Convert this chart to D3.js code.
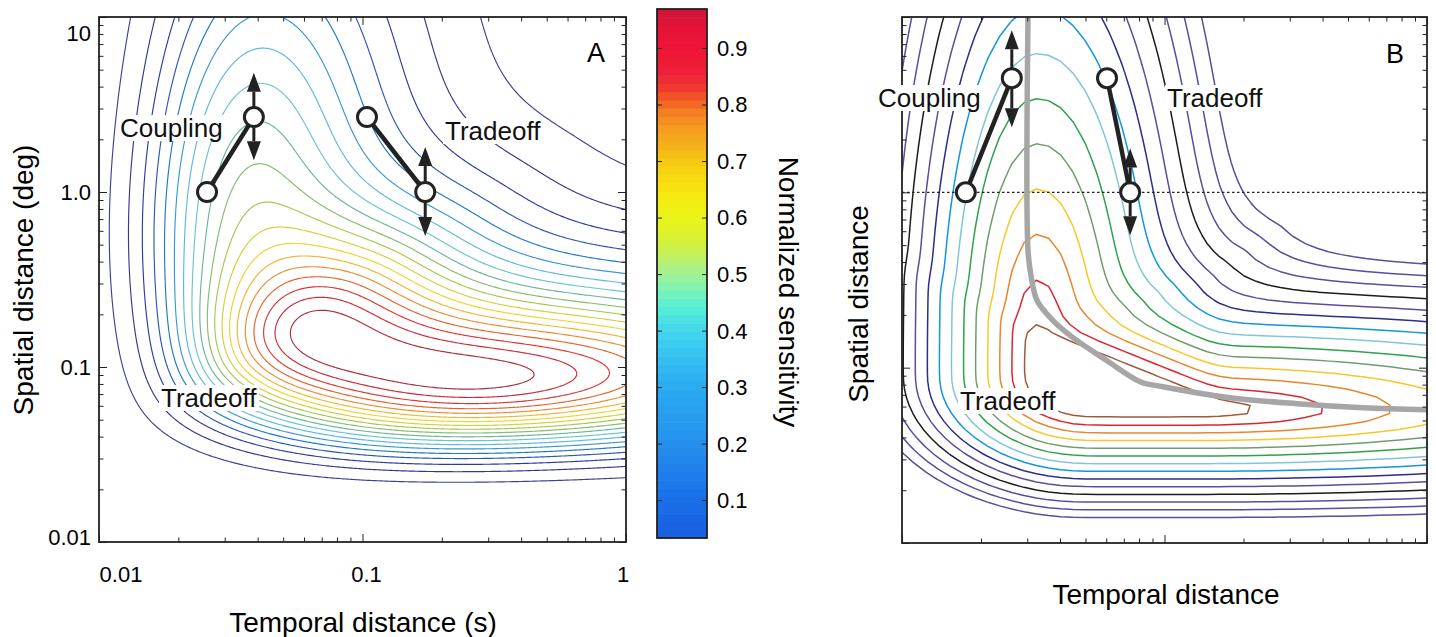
<!DOCTYPE html>
<html>
<head>
<meta charset="utf-8">
<script src="https://cdn.jsdelivr.net/npm/d3@7"></script>
<style>
  body { margin: 0; background: #fff; }
  svg { font-family: "Liberation Sans", Arial, Helvetica, sans-serif; }
</style>
</head>
<body>
<svg id="chart" width="1436" height="637"></svg>
<script>
// ---------- values ----------
var tDomain = [0.01, 1];          // temporal distance (s)
var sDomain = [0.01, 10];         // spatial distance (deg)
var tTickValues = [0.01, 0.1, 1];
var tTickLabels = ["0.01", "0.1", "1"];
var sTickValues = [0.01, 0.1, 1, 10];
var sTickLabels = ["0.01", "0.1", "1.0", "10"];

// panel A: Kelly (1979) spatiotemporal sensitivity, contour levels of normalized sensitivity
var levelsA = [0.05, 0.10, 0.15, 0.20, 0.25, 0.30, 0.35, 0.40, 0.45, 0.50,
               0.55, 0.60, 0.65, 0.70, 0.75, 0.80, 0.85, 0.90, 0.95];
var colorsA = ["#40409c", "#36378f", "#2e3c9c", "#2a58b4", "#2178c8", "#3a98d6", "#5cb8e0",
               "#6cc3c8", "#6bb59c", "#84bd6d", "#a8c84d", "#d0d23b", "#eed52e", "#f2b52f",
               "#ec8c33", "#e5622f", "#df3532", "#cf2a3a", "#a6313f"];
var kellyCoef = [6.1, 7.3, 3, 2, 45.9];
var distToFreq = [1.6, 1.8];      // temporal, spatial conversion of distances to frequencies

// colour bar
var colorbarDomain = [0.033, 0.969];
var colorbarTicks = [0.1, 0.2, 0.3, 0.4, 0.5, 0.6, 0.7, 0.8, 0.9];
var colorbarStops = [0.03, 0.10, 0.20, 0.30, 0.36, 0.40, 0.44, 0.47, 0.50, 0.53, 0.56, 0.60,
                     0.64, 0.67, 0.70, 0.73, 0.76, 0.79, 0.81, 0.83, 0.86, 0.90, 0.94, 0.97];
var colorbarColors = ["#1a5fe0", "#1a6ee8", "#2490ec", "#2aaaf0", "#38c4f0", "#42d6ee", "#55eed6",
                      "#78f4b8", "#a0f296", "#c0f066", "#d6f236", "#eaf418", "#f6ea10", "#f8da10",
                      "#f6c812", "#f5b018", "#f59a20", "#f47a22", "#f25a24", "#f03a30", "#ee1e36",
                      "#ee1438", "#e41438", "#c8163a"];

// panel B: model sensitivity with a vertical (coupling) and a horizontal (tradeoff) arm
var levelsB = [1, 2, 3, 4, 5, 6, 7, 8, 9, 10, 11, 12, 13, 14].map(function (n) { return n / 15; });
var colorsB = ["#5d4b9b", "#5d4b9b", "#5d4b9b", "#1c1c1c", "#5d4b9b", "#2c2e87", "#1495dc",
               "#80c6d8", "#2ea24d", "#6f9d6f", "#f7c82b", "#e8862c", "#dd2532", "#9b5b3f"];
var vArmB = [-1.48, -1.0, 0.26];              // crest log T, plateau top log S, fall upward
var vFlankB = [1.45, 1.25, 0.2];              // left slope, right slope, inner corner radius
var hArmB = [-0.875, 0.267];                  // plateau end log T, fall rightward
var hCrestB = [-1.245, -1.24, 0.6, -0.8];     // lower edge, upper edge, upper-edge tilt, tilt start
var hFlankB = [1.52, 1.1];                    // lower and upper slopes
var blendB = [0.28, 0.01];
var ridgeB = [[0.0302, 10], [0.0302, 0.467], [0.031, 0.336], [0.0327, 0.2415], [0.0376, 0.1856],
              [0.0448, 0.1484], [0.0604, 0.1096], [0.0807, 0.0832], [0.0987, 0.0779],
              [0.1776, 0.0674], [0.3198, 0.0623], [0.5706, 0.0591], [1, 0.0575]];
var spatialReferenceB = 1.0;

// markers: [T, S]
var couplingA = [[0.0257, 1.0], [0.0387, 2.68]];
var tradeoffA = [[0.104, 2.68], [0.173, 1.0]];
var arrowTipsA = [[0.0387, 4.8], [0.0387, 1.52], [0.173, 1.81], [0.173, 0.56]];
var couplingB = [[0.0175, 1.0], [0.0262, 4.48]];
var tradeoffB = [[0.0604, 4.48], [0.074, 1.0]];
var arrowTipsB = [[0.0262, 8.4], [0.0262, 2.35], [0.074, 1.78], [0.074, 0.57]];

// ---------- drawing ----------
var svg = d3.select("#chart");
var ink = "#222";

var xA = d3.scaleLog().domain(tDomain).range([99, 626]);
var yA = d3.scaleLog().domain(sDomain).range([542, 17]);
var xB = d3.scaleLog().domain(tDomain).range([902, 1427]);
var yB = d3.scaleLog().domain(sDomain).range([543, 17]);

var uMin = Math.log10(tDomain[0]), uMax = Math.log10(tDomain[1]);
var wMin = Math.log10(sDomain[0]), wMax = Math.log10(sDomain[1]);

function kelly(u, w) {
    var om = distToFreq[0] / Math.pow(10, u);
    var al = distToFreq[1] / Math.pow(10, w);
    var v = om / al;
    var k = kellyCoef[0] + kellyCoef[1] * Math.pow(Math.abs(Math.log10(v / kellyCoef[2])), 3);
    return k * v * al * al * Math.exp(-2 * al * (v + kellyCoef[3]) / kellyCoef[4]);
}

// smooth version of max(0, x)
function sp(x) {
    var s = 0.03;
    return x > 10 * s ? x : s * Math.log(1 + Math.exp(x / s));
}
function sig(x) { return 1 / (1 + Math.exp(-x)); }

function modelB(u, w) {
    var du = u - vArmB[0];
    var wu = hCrestB[1] + hCrestB[2] * sp(hCrestB[3] - u);
    // shared inner (lower-left) fall-off with a rounded corner
    var r = vFlankB[2];
    var a = vFlankB[0] * sp(-du + r), b = hFlankB[0] * sp(hCrestB[0] - w + r);
    var inner = sp(Math.sqrt(a * a + b * b) - r * (vFlankB[0] + hFlankB[0]) / 2);
    // vertical (coupling) arm
    var cR = vFlankB[1] * sp(du), cT = vArmB[2] * sp(w - vArmB[1]);
    var cV = Math.sqrt(inner * inner + cR * cR + cT * cT);
    // horizontal (tradeoff) arm
    var hR = hArmB[1] * sp(u - hArmB[0]), hU = hFlankB[1] * sp(w - wu);
    var cH = Math.sqrt(inner * inner + hR * hR + hU * hU);
    // soft minimum, rounded only in the outer (upper-right) quadrant
    var m = Math.min(cV, cH);
    var gate = sig((du - 0.05) / 0.05) * sig((w - wu) / 0.05);
    var beta = 1 / (blendB[0] * gate * m + blendB[1]);
    var c = m - Math.log(Math.exp(-beta * (cV - m)) + Math.exp(-beta * (cH - m))) / beta;
    return 1 - c;
}

// sample a field on a grid in log coordinates, with a margin outside the axes
function sampleGrid(f, nx, ny, pad) {
    var du = (uMax - uMin) / (nx - 1), dw = (wMax - wMin) / (ny - 1);
    var NX = nx + 2 * pad, NY = ny + 2 * pad;
    var values = new Array(NX * NY);
    var max = -Infinity;
    for (var j = 0; j < NY; j++) {
        for (var i = 0; i < NX; i++) {
            var v = f(uMin + (i - pad) * du, wMax - (j - pad) * dw);
            values[j * NX + i] = v;
            if (i >= pad && i < NX - pad && j >= pad && j < NY - pad && v > max) max = v;
        }
    }
    values = values.map(function (v) { return v / max; });
    return { values: values, NX: NX, NY: NY, du: du, dw: dw, pad: pad };
}

function drawContours(g, grid, levels, colors, x, y, clipId, width) {
    var proj = d3.geoTransform({
        point: function (cx, cy) {
            var u = uMin + (cx - 0.5 - grid.pad) * grid.du;
            var w = wMax - (cy - 0.5 - grid.pad) * grid.dw;
            this.stream.point(x(Math.pow(10, u)), y(Math.pow(10, w)));
        }
    });
    var path = d3.geoPath(proj);
    var contours = d3.contours().size([grid.NX, grid.NY]).thresholds(levels)(grid.values);
    g.append("g")
        .attr("clip-path", "url(#" + clipId + ")")
        .selectAll("path")
        .data(contours)
        .enter().append("path")
        .attr("d", path)
        .attr("fill", "none")
        .attr("stroke", function (d, i) { return colors[i]; })
        .attr("stroke-width", width)
        .attr("stroke-linejoin", "round");
}

function addClip(id, x, y) {
    svg.append("clipPath").attr("id", id).append("rect")
        .attr("x", x.range()[0]).attr("y", y.range()[1])
        .attr("width", x.range()[1] - x.range()[0])
        .attr("height", y.range()[0] - y.range()[1]);
}

function drawFrame(g, x, y) {
    var x0 = x.range()[0], x1 = x.range()[1], y0 = y.range()[1], y1 = y.range()[0];
    var all = x.ticks(), allS = y.ticks();
    var isMajor = function (v) { return Math.abs(Math.log10(v) - Math.round(Math.log10(v))) < 1e-6; };
    [[all.filter(function (v) { return !isMajor(v); }), 4.5], [all.filter(isMajor), 8]].forEach(function (p) {
        g.append("g").attr("transform", "translate(0," + y1 + ")")
            .call(d3.axisBottom(x).tickValues(p[0]).tickSize(-p[1]).tickFormat(""));
        g.append("g").attr("transform", "translate(0," + y0 + ")")
            .call(d3.axisTop(x).tickValues(p[0]).tickSize(-p[1]).tickFormat(""));
    });
    [[allS.filter(function (v) { return !isMajor(v); }), 4.5], [allS.filter(isMajor), 8]].forEach(function (p) {
        g.append("g").attr("transform", "translate(" + x0 + ",0)")
            .call(d3.axisLeft(y).tickValues(p[0]).tickSize(-p[1]).tickFormat(""));
        g.append("g").attr("transform", "translate(" + x1 + ",0)")
            .call(d3.axisRight(y).tickValues(p[0]).tickSize(-p[1]).tickFormat(""));
    });
    g.selectAll(".domain").remove();
    g.selectAll(".tick line").attr("stroke", ink).attr("stroke-width", 1);
    g.append("rect").attr("x", x0).attr("y", y0).attr("width", x1 - x0).attr("height", y1 - y0)
        .attr("fill", "none").attr("stroke", ink).attr("stroke-width", 1.8);
}

function addLabel(g, text, x, y, size, anchor) {
    var lg = g.append("g");
    var t = lg.append("text").attr("x", x).attr("y", y).attr("font-size", size)
        .attr("text-anchor", anchor || "start").attr("fill", "#111").text(text);
    var bb = t.node().getBBox();
    lg.insert("rect", "text").attr("x", bb.x - 2).attr("y", bb.y + 2)
        .attr("width", bb.width + 4).attr("height", bb.height - 4).attr("fill", "#fff");
}

function drawMarkers(g, x, y, coupling, tradeoff, tips) {
    [coupling, tradeoff].forEach(function (pair) {
        g.append("line")
            .attr("x1", x(pair[0][0])).attr("y1", y(pair[0][1]))
            .attr("x2", x(pair[1][0])).attr("y2", y(pair[1][1]))
            .attr("stroke", ink).attr("stroke-width", 4.5);
    });
    var pivots = [coupling[1], coupling[1], tradeoff[1], tradeoff[1]];
    tips.forEach(function (tip, i) {
        var px = x(pivots[i][0]), py = y(pivots[i][1]);
        var tx = x(tip[0]), ty = y(tip[1]);
        var dir = ty < py ? -1 : 1;
        var head = 19, half = 7;
        g.append("line").attr("x1", px).attr("y1", py).attr("x2", tx).attr("y2", ty - dir * head)
            .attr("stroke", ink).attr("stroke-width", 3);
        g.append("path")
            .attr("d", "M" + tx + "," + ty + "L" + (tx - half) + "," + (ty - dir * head) +
                       "L" + (tx + half) + "," + (ty - dir * head) + "Z")
            .attr("fill", ink);
    });
    g.selectAll(null).data(coupling.concat(tradeoff)).enter().append("circle")
        .attr("cx", function (d) { return x(d[0]); })
        .attr("cy", function (d) { return y(d[1]); })
        .attr("r", 9.5).attr("fill", "#fff").attr("stroke", ink).attr("stroke-width", 3);
}

// ----- panel A -----
addClip("clipA", xA, yA);
var gA = svg.append("g");
var gridA = sampleGrid(kelly, 264, 396, 3);
drawContours(gA, gridA, levelsA, colorsA, xA, yA, "clipA", 1.15);
drawFrame(gA, xA, yA);

addLabel(gA, "Coupling", 120, 137, 26);
addLabel(gA, "Tradeoff", 445, 140, 26);
addLabel(gA, "Tradeoff", 161, 407, 26);
drawMarkers(gA, xA, yA, couplingA, tradeoffA, arrowTipsA);
gA.append("text").attr("x", 587).attr("y", 62).attr("font-size", 27).text("A");

gA.selectAll(null).data(tTickValues).enter().append("text")
    .attr("x", function (d, i) { return xA(d) + (i === 0 ? 22 : (i === 1 ? 4 : -3)); })
    .attr("y", 582).attr("font-size", 22).attr("text-anchor", "middle")
    .text(function (d, i) { return tTickLabels[i]; });
gA.selectAll(null).data(sTickValues).enter().append("text")
    .attr("x", 91)
    .attr("y", function (d, i) { return yA(d) + (i === 3 ? 16 : (i === 0 ? -5 : 0)); })
    .attr("dy", "0.36em").attr("font-size", 22).attr("text-anchor", "end")
    .text(function (d, i) { return sTickLabels[i]; });
gA.append("text").attr("x", 363).attr("y", 632).attr("font-size", 28)
    .attr("text-anchor", "middle").text("Temporal distance (s)");
gA.append("text").attr("transform", "translate(33,280) rotate(-90)").attr("font-size", 28)
    .attr("text-anchor", "middle").text("Spatial distance (deg)");

// ----- colour bar -----
var cbY = d3.scaleLinear().domain(colorbarDomain).range([538, 9]);
var cbColor = d3.scaleLinear().domain(colorbarStops).range(colorbarColors).interpolate(d3.interpolateRgb);
var nBands = 64;
var bands = d3.range(nBands).map(function (k) {
    var step = (colorbarDomain[1] - colorbarDomain[0]) / nBands;
    return [colorbarDomain[0] + k * step, colorbarDomain[0] + (k + 1) * step];
});
var gC = svg.append("g");
gC.selectAll("rect.band").data(bands).enter().append("rect").attr("class", "band")
    .attr("x", 657).attr("width", 50)
    .attr("y", function (d) { return cbY(d[1]); })
    .attr("height", function (d) { return cbY(d[0]) - cbY(d[1]) + 0.6; })
    .attr("fill", function (d) { return cbColor((d[0] + d[1]) / 2); });
gC.append("g").attr("transform", "translate(657,0)")
    .call(d3.axisLeft(cbY).tickValues(colorbarTicks).tickSize(-5).tickFormat(""));
gC.append("g").attr("transform", "translate(707,0)")
    .call(d3.axisRight(cbY).tickValues(colorbarTicks).tickSize(-5).tickFormat(""));
gC.selectAll(".domain").remove();
gC.selectAll(".tick line").attr("stroke", ink);
gC.append("rect").attr("x", 657).attr("y", 9).attr("width", 50).attr("height", 529)
    .attr("fill", "none").attr("stroke", ink).attr("stroke-width", 1.8);
gC.selectAll("text.cb").data(colorbarTicks).enter().append("text").attr("class", "cb")
    .attr("x", 717).attr("y", function (d) { return cbY(d); }).attr("dy", "0.36em")
    .attr("font-size", 22).text(function (d) { return d3.format(".1f")(d); });
gC.append("text").attr("transform", "translate(779,292) rotate(90)").attr("font-size", 28)
    .attr("text-anchor", "middle").text("Normalized sensitivity");

// ----- panel B -----
addClip("clipB", xB, yB);
var gB = svg.append("g");
var gridB = sampleGrid(modelB, 44, 66, 2);
drawContours(gB, gridB, levelsB, colorsB, xB, yB, "clipB", 1.5);
gB.append("line")
    .attr("x1", xB.range()[0]).attr("x2", xB.range()[1])
    .attr("y1", yB(spatialReferenceB)).attr("y2", yB(spatialReferenceB))
    .attr("stroke", ink).attr("stroke-width", 1.1).attr("stroke-dasharray", "2.5,2.5");
gB.append("path")
    .datum(ridgeB)
    .attr("clip-path", "url(#clipB)")
    .attr("d", d3.line().x(function (d) { return xB(d[0]); }).y(function (d) { return yB(d[1]); })
        .curve(d3.curveCatmullRom.alpha(0.5)))
    .attr("fill", "none").attr("stroke", "#a6a6a6").attr("stroke-width", 5.5);
drawFrame(gB, xB, yB);
addLabel(gB, "Coupling", 878, 107, 26);
addLabel(gB, "Tradeoff", 1167, 107, 26);
addLabel(gB, "Tradeoff", 960, 410, 26);
drawMarkers(gB, xB, yB, couplingB, tradeoffB, arrowTipsB);
gB.append("text").attr("x", 1386).attr("y", 63).attr("font-size", 27).text("B");
gB.append("text").attr("x", 1166).attr("y", 604).attr("font-size", 28)
    .attr("text-anchor", "middle").text("Temporal distance");
gB.append("text").attr("transform", "translate(868,304) rotate(-90)").attr("font-size", 28)
    .attr("text-anchor", "middle").text("Spatial distance");
</script>
</body>
</html>
